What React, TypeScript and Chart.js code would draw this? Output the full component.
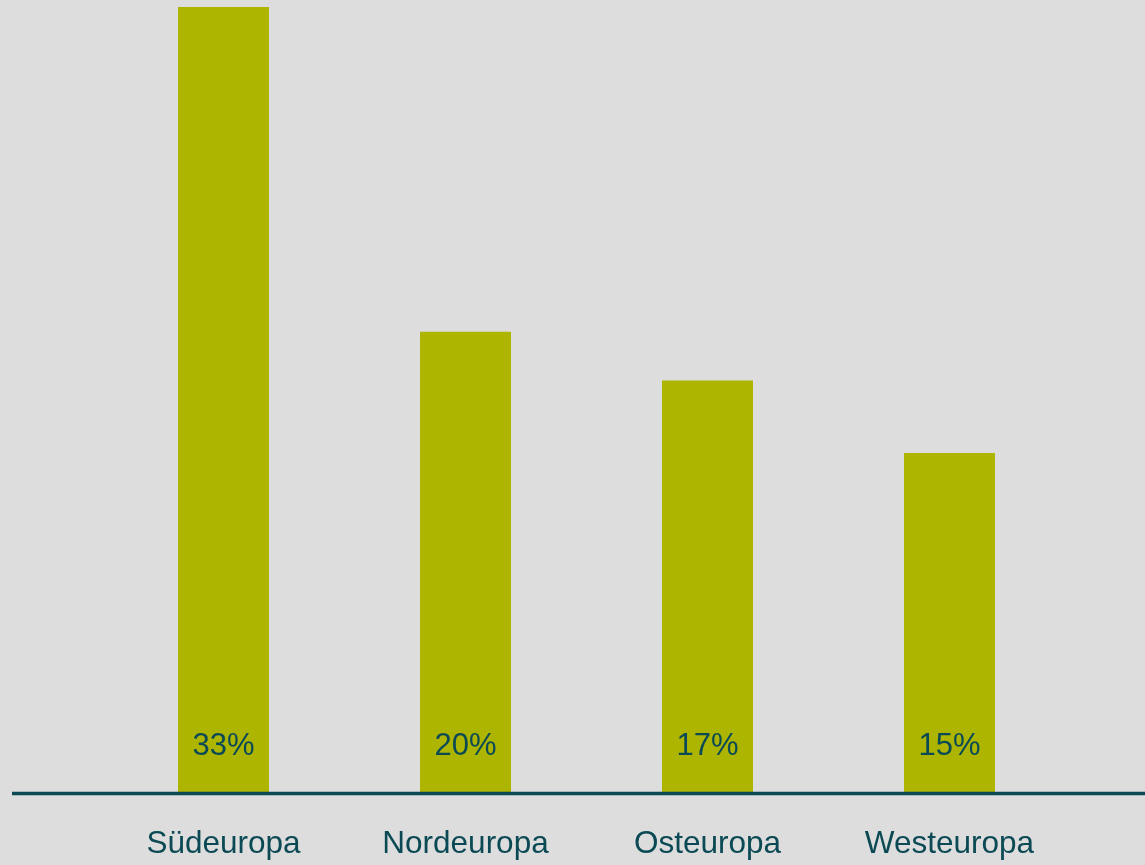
import React, { useEffect, useRef } from "react";
import { Chart, registerables } from "chart.js";

Chart.register(...registerables);

const categories = ["Südeuropa", "Nordeuropa", "Osteuropa", "Westeuropa"];
const values = [33, 19.35, 17.3, 14.25];
const valueLabels = ["33%", "20%", "17%", "15%"];

const BG = "#dddddd";
const BAR = "#adb500";
const TEXT = "#0b4a55";
const LINE = "#0b4a55";
const FONT = "'Liberation Sans', Arial, sans-serif";

const baselinePlugin = {
  id: "baseline",
  afterDatasetsDraw(chart: any) {
    const { ctx, chartArea, width } = chart;
    ctx.save();
    ctx.strokeStyle = LINE;
    ctx.lineWidth = 3.5;
    ctx.beginPath();
    ctx.moveTo(12, chartArea.bottom + 1.5);
    ctx.lineTo(width, chartArea.bottom + 1.5);
    ctx.stroke();
    ctx.restore();
  },
};

const valueLabelPlugin = {
  id: "valueLabels",
  afterDatasetsDraw(chart: any) {
    const { ctx, chartArea } = chart;
    const meta = chart.getDatasetMeta(0);
    ctx.save();
    ctx.fillStyle = TEXT;
    ctx.font = `31px ${FONT}`;
    ctx.textAlign = "center";
    ctx.textBaseline = "middle";
    meta.data.forEach((bar: any, i: number) => {
      ctx.fillText(valueLabels[i], bar.x, chartArea.bottom - 45.5);
    });
    ctx.restore();
  },
};

export default function App() {
  const canvasRef = useRef<HTMLCanvasElement | null>(null);

  useEffect(() => {
    if (!canvasRef.current) return;
    const chart = new Chart(canvasRef.current, {
      type: "bar",
      data: {
        labels: categories,
        datasets: [
          {
            data: values,
            backgroundColor: BAR,
            borderWidth: 0,
            categoryPercentage: 1,
            barPercentage: 0.376,
          },
        ],
      },
      options: {
        animation: false,
        responsive: false,
        maintainAspectRatio: false,
        layout: {
          padding: { left: 102.5, right: 74.5, top: 7, bottom: 0 },
        },
        plugins: {
          legend: { display: false },
          tooltip: { enabled: false },
        },
        scales: {
          x: {
            grid: { display: false, drawTicks: false },
            border: { display: false },
            ticks: {
              color: TEXT,
              font: { family: FONT, size: 31.5 },
              padding: 33,
              maxRotation: 0,
            },
            afterFit(scale: any) {
              scale.height = 73;
            },
          },
          y: {
            display: false,
            min: 0,
            max: 33,
          },
        },
      },
      plugins: [baselinePlugin, valueLabelPlugin],
    });
    return () => chart.destroy();
  }, []);

  return (
    <div
      style={{
        position: "fixed",
        left: 0,
        top: 0,
        width: 1145,
        height: 865,
        background: BG,
      }}
    >
      <canvas ref={canvasRef} width={1145} height={865} style={{ display: "block" }} />
    </div>
  );
}
